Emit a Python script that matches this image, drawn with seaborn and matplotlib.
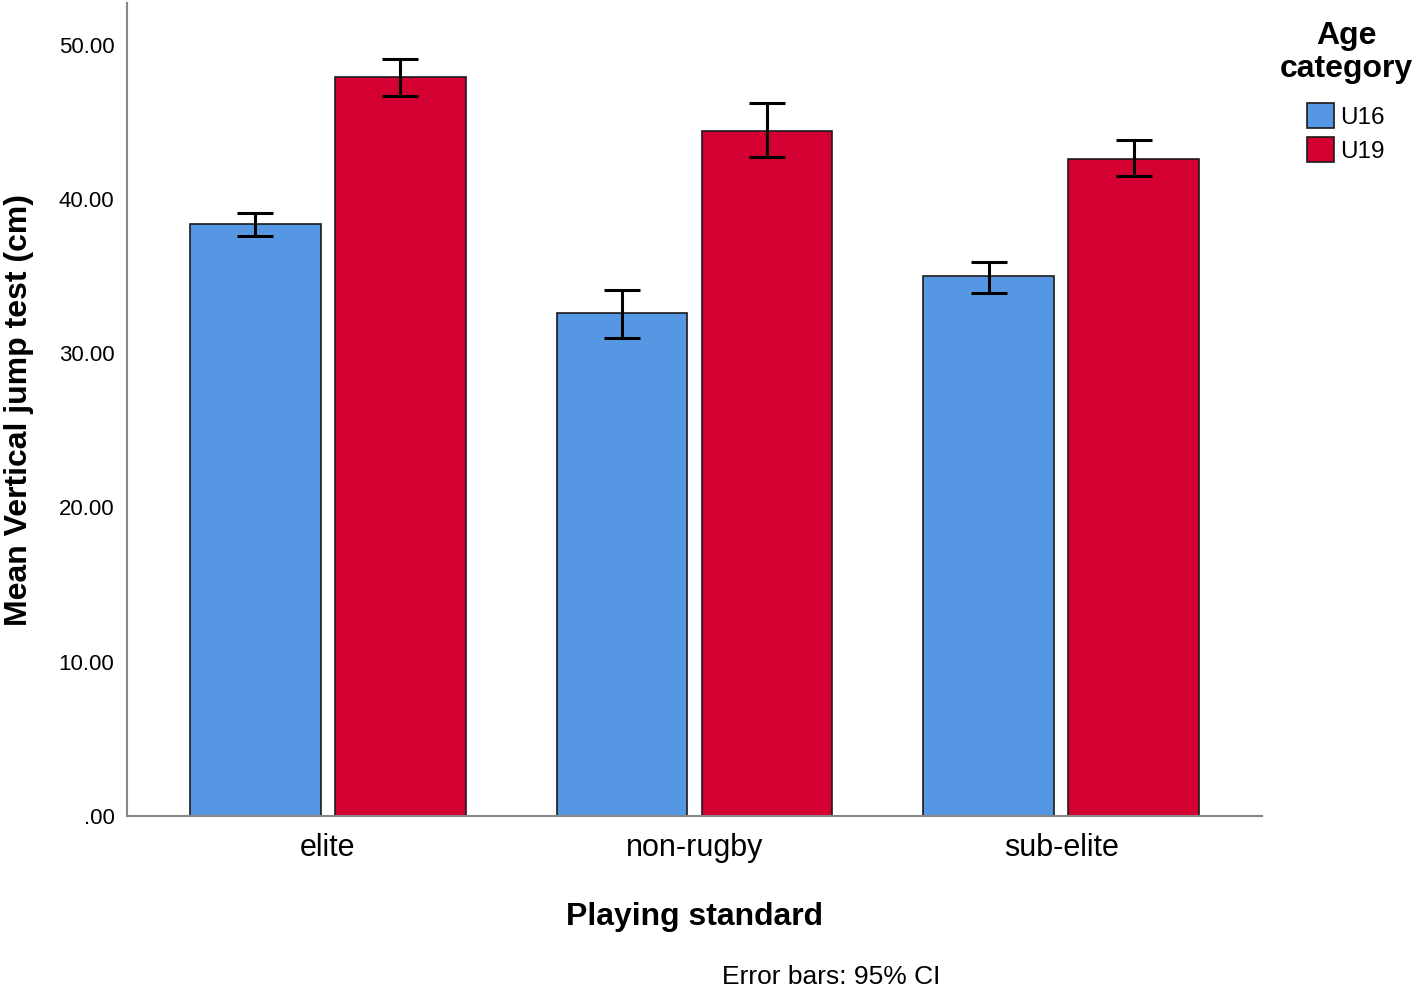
import matplotlib
matplotlib.use("Agg")
import matplotlib.pyplot as plt
import seaborn as sns
import pandas as pd
import numpy as np
from matplotlib.ticker import FuncFormatter, MultipleLocator

# Data
standards = ["elite", "non-rugby", "sub-elite"]
ages = ["U16", "U19"]
mean_u16 = [38.4, 32.6, 35.0]
mean_u19 = [47.9, 44.4, 42.6]
ci_low_u16 = [37.6, 31.0, 33.9]
ci_high_u16 = [39.1, 34.1, 35.9]
ci_low_u19 = [46.7, 42.7, 41.5]
ci_high_u19 = [49.1, 46.2, 43.8]

df = pd.DataFrame({
    "standard": standards * 2,
    "age": ["U16"] * 3 + ["U19"] * 3,
    "mean": mean_u16 + mean_u19,
})

colors = {"U16": "#5697E4", "U19": "#D50032"}

sns.set_style("white")
plt.rcParams["font.family"] = ["Liberation Sans", "DejaVu Sans"]
plt.rcParams["text.color"] = "black"
plt.rcParams["axes.labelcolor"] = "black"
plt.rcParams["xtick.color"] = "black"
plt.rcParams["ytick.color"] = "black"

fig = plt.figure(figsize=(14.18, 9.9), dpi=100)
ax = fig.add_axes([127 / 1418, 1 - 816 / 990, (1262 - 127) / 1418, (816 - 3) / 990])

sns.barplot(data=df, x="standard", y="mean", hue="age", order=standards, hue_order=ages,
            palette=colors, width=0.79, gap=0.097, edgecolor="#1a1a1a", linewidth=1.2,
            errorbar=None, legend=False, saturation=1, ax=ax)

bar_containers = list(ax.containers)
lows = [ci_low_u16, ci_low_u19]
highs = [ci_high_u16, ci_high_u19]
means = [mean_u16, mean_u19]
for i, cont in enumerate(bar_containers):
    xs = [b.get_x() + b.get_width() / 2 for b in cont]
    m = np.array(means[i])
    lo = m - np.array(lows[i])
    hi = np.array(highs[i]) - m
    ax.errorbar(xs, m, yerr=[lo, hi], fmt="none", ecolor="black", elinewidth=2.2,
                capsize=13, capthick=2.2, zorder=5)

ax.set_xlim(-0.548, 2.548)
ax.set_ylim(0, 52.7)
ax.yaxis.set_major_locator(MultipleLocator(10))
ax.yaxis.set_major_formatter(FuncFormatter(lambda v, p: (f"{v:.2f}" if v != 0 else ".00")))

for s in ["top", "right"]:
    ax.spines[s].set_visible(False)
for s in ["left", "bottom"]:
    ax.spines[s].set_color("#888888")
    ax.spines[s].set_linewidth(1.5)

ax.tick_params(axis="y", length=0, pad=9, labelsize=16, colors="black")
ax.tick_params(axis="x", length=0, pad=12, labelsize=22, colors="black")
ax.set_xlabel("Playing standard", fontsize=23, fontweight="bold", labelpad=28, color="black")
ax.set_ylabel("Mean Vertical jump test (cm)", fontsize=23, fontweight="bold", labelpad=18,
              color="black")

handles = [bar_containers[0], bar_containers[1]]
leg = fig.legend(handles, ages, title="Age\ncategory", loc="upper center",
                 bbox_to_anchor=(1346 / 1418, 1 - 21 / 990), frameon=False,
                 fontsize=17.5, title_fontproperties={"weight": "bold", "size": 23},
                 handlelength=1.1, handleheight=1.2, handletextpad=0.25,
                 labelspacing=0.35, borderaxespad=0, borderpad=0, labelcolor="black")
leg.get_title().set_multialignment("center")
leg.get_title().set_linespacing(1.12)
leg.get_title().set_color("black")
leg._legend_box.sep = 14

fig.text(831 / 1418, 1 - 977 / 990, "Error bars: 95% CI", fontsize=19,
         ha="center", va="center", color="black")

fig.savefig("out.png", dpi=100)
